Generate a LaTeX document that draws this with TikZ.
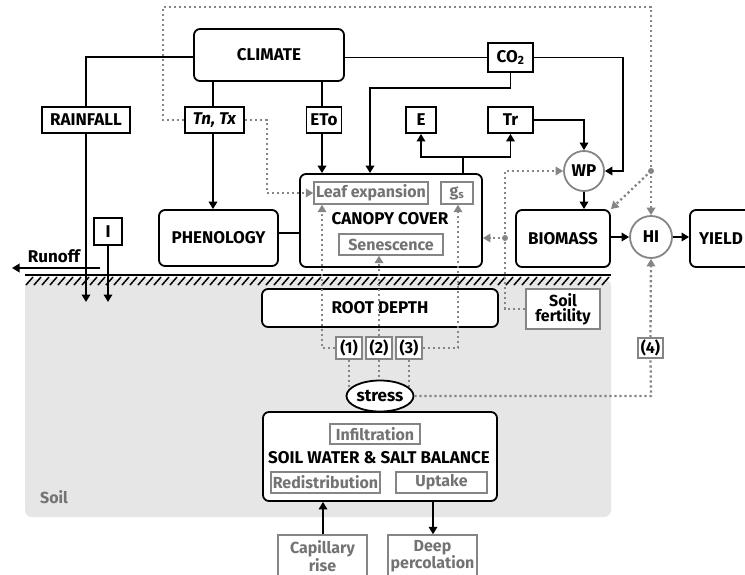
\documentclass[tikz,border=0pt]{standalone}
\usepackage{fontspec}
\setmainfont{Fira Sans}
\usetikzlibrary{arrows.meta,shapes.geometric,calc}
\pgfdeclarelayer{bg}\pgfdeclarelayer{mid}\pgfsetlayers{bg,mid,main}
\definecolor{gtxt}{HTML}{737373}
\definecolor{gln}{HTML}{858585}
\definecolor{soil}{HTML}{E6E6E6}
\begin{document}
\begin{tikzpicture}[x=1pt,y=-1pt,
  font=\fontsize{17}{18}\selectfont\bfseries,
  sz/.style 2 args={minimum width=#1pt, minimum height=#2pt},
  box/.style={draw=black, line width=1.8pt, fill=white, inner sep=0pt},
  rbox/.style={box, rounded corners=6pt},
  gbox/.style={draw=gln, line width=1.4pt, fill=white, inner sep=0pt, text=gtxt, font=\fontsize{16}{16}\selectfont\bfseries},
  circ/.style={circle, draw=gln, line width=1.8pt, fill=white, inner sep=0pt},
  lbl/.style={inner sep=0pt},
  ln/.style={line width=1.8pt},
  arr/.style={-{Triangle[length=7.5pt,width=8.5pt]}},
  dot/.style={draw=gln, line width=2.3pt, dash pattern=on 2.2pt off 2.8pt},
]
\useasboundingbox (0,0) rectangle (745,574);

% soil background
\begin{pgfonlayer}{bg}
\fill[soil, rounded corners=7pt] (25,279) rectangle (611,517);
\end{pgfonlayer}
\node[lbl, text=gtxt, font=\fontsize{16}{16}\selectfont\bfseries] (soillbl) at (54,497) {Soil};

% ground
\draw[line width=1.6pt] (25,275) -- (611,275);
\foreach \x in {26,34,...,602} \draw[line width=1.5pt] (\x,285) -- (\x+7,277);

% nodes
\node[rbox, sz={150}{52}] (climate) at (269,55) {CLIMATE};
\node[box, sz={88}{26}] (rain) at (86,120) {RAINFALL};
\node[box, sz={59}{26}, line width=2.4pt] (tn) at (214.5,120) {\itshape Tn, Tx};
\node[box, sz={35}{26}] (eto) at (324,120) {ETo};
\node[box, sz={45}{29}] (co2) at (510.5,57.5) {CO\textsubscript{2}};
\node[box, sz={30}{26}] (e) at (421,120) {E};
\node[box, sz={45}{26}] (tr) at (510.5,120) {Tr};
\node[circ, minimum size=40pt] (wp) at (584,171) {WP};
\node[rbox, sz={182}{93}] (canopy) at (391,220.5) {};
\node[lbl] (cctext) at (390,219) {CANOPY COVER};
\node[gbox, sz={114}{22}] (leaf) at (371,193) {Leaf expansion};
\node[gbox, sz={32}{22}] (gs) at (457,193) {g\textsubscript{s}};
\node[gbox, sz={104}{21}] (sen) at (391,244.5) {Senescence};
\node[rbox, sz={119}{56}] (phen) at (218.5,238) {PHENOLOGY};
\node[rbox, sz={94}{57}] (bio) at (563,238.5) {BIOMASS};
\node[circ, minimum size=42pt] (hi) at (651,237) {HI};
\node[rbox, sz={62}{57}] (yield) at (721,238.5) {YIELD};
\node[box, sz={28}{27}] (ib) at (108,231.5) {I};
\node[lbl] (runoff) at (54,256) {Runoff};
\coordinate (ro1) at (100,268);
\coordinate (ro2) at (12,268);
\node[rbox, sz={236}{38}] (root) at (380,308) {ROOT DEPTH};
\node[gbox, text=black, sz={26}{22}] (b1) at (349,348) {(1)};
\node[gbox, text=black, sz={26}{22}] (b2) at (379,348) {(2)};
\node[gbox, text=black, sz={26}{22}] (b3) at (409,348) {(3)};
\node[gbox, text=black, sz={25}{20}] (b4) at (650.5,348) {(4)};
\node[ellipse, draw=black, line width=1.8pt, fill=white, inner sep=0pt, minimum width=67pt, minimum height=31pt] (stress) at (380,396) {stress};
\node[gbox, text=black, sz={74}{40}, align=center, font=\fontsize{16}{15}\selectfont\bfseries] (fert) at (563,309) {Soil\\fertility};
\node[rbox, sz={234}{89}] (swb) at (380,456.5) {};
\node[lbl] (swtext) at (379,458) {SOIL WATER \& SALT BALANCE};
\node[gbox, sz={90}{20}] (infil) at (375,434) {Infiltration};
\node[gbox, sz={109}{21}] (redist) at (325.5,482.5) {Redistribution};
\node[gbox, sz={91}{21}] (uptake) at (441.5,482.5) {Uptake};
\node[gbox, sz={89}{42}, align=center, font=\fontsize{16}{15}\selectfont\bfseries] (cap) at (322.5,556) {Capillary\\rise};
\node[gbox, sz={89}{42}, align=center, font=\fontsize{16}{15}\selectfont\bfseries] (deep) at (432.5,556) {Deep\\percolation};

% black connectors
\draw[ln] (climate.west |- 0,57) -- (86,57) -- (rain.north);
\draw[ln, arr] (rain.south) -- (86,302);
\draw[ln] (213,0 |- climate.south) -- (213,0 |- tn.north);
\draw[ln, arr] (213,0 |- tn.south) -- (213,0 |- phen.north);
\draw[ln] (322,0 |- climate.south) -- (322,0 |- eto.north);
\draw[ln, arr] (322,0 |- eto.south) -- (322,0 |- canopy.north);
\draw[ln] (climate.east |- co2.west) -- (co2.west);
\draw[ln, arr] (co2.south) -- (510.5,88) -- (370,88) -- (370,0 |- canopy.north);
\draw[ln, arr] (co2.east) -- (623,57.5) -- (623,0 |- wp.east) -- (wp.east);
\draw[ln] (463,0 |- canopy.north) -- (463,157);
\draw[ln, arr] (463,157) -- (421,157) -- (e.south);
\draw[ln, arr] (463,157) -- (510.5,157) -- (tr.south);
\draw[ln, arr] (tr.east) -- (584,120) -- (wp.north);
\draw[ln, arr] (wp.south) -- (bio.north -| wp.south);
\draw[ln, arr] (bio.east |- hi.west) -- (hi.west);
\draw[ln, arr] (hi.east) -- (yield.west |- hi.east);
\draw[ln] (phen.east |- 0,233) -- (canopy.west |- 0,233);
\draw[ln, arr] (ib.south) -- (108,302);
\draw[ln, arr] (ro1) -- (ro2);
\draw[ln, arr] (cap.north -| 323,0) -- (swb.south -| 323,0);
\draw[ln, arr] (swb.south -| 433,0) -- (deep.north -| 433,0);

% dotted gray connectors
\draw[dot] (tn.west) -- (163,120) -- (163,7) -- (651,7) -- (651,171);
\fill[gln] (651,171) circle (3pt);
\draw[dot, arr] (651,171) -- (hi.north);
\draw[dot, arr] (651,171) -- (bio.north east);
\draw[dot, arr] (tn.east) -- (267,120) -- (267,0 |- leaf.west) -- (leaf.west);
\draw[dot, arr] (fert.west) -- (505,0 |- fert.west) -- (505,0 |- wp.west) -- (wp.west);
\fill[gln] (505,238) circle (3pt);
\draw[dot, arr] (505,238) -- (canopy.east |- 0,238);
\draw[dot, arr] (b1.west) -- (322,0 |- b1.west) -- (322,0 |- leaf.south);
\draw[dot, arr] (b2.north) -- (sen.south -| b2.north);
\draw[dot, arr] (b3.east) -- (458,0 |- b3.east) -- (458,0 |- gs.south);
\begin{pgfonlayer}{mid}
\draw[dot] (b1.south) -- (b1.south |- stress.center);
\draw[dot] (b2.south) -- (b2.south |- stress.center);
\draw[dot] (b3.south) -- (b3.south |- stress.center);
\end{pgfonlayer}
\draw[dot] (stress.east) -- (651,0 |- stress.east) -- (b4.south);
\draw[dot, arr] (b4.north) -- (hi.south);
\end{tikzpicture}
\end{document}
